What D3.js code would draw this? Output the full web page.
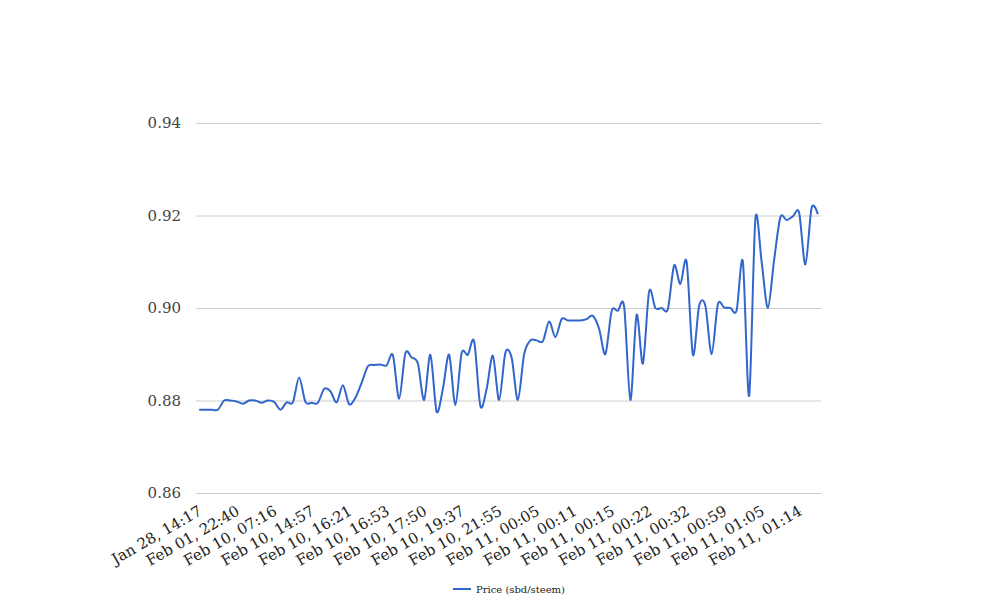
<!DOCTYPE html>
<html>
<head>
<meta charset="utf-8">
<script src="https://cdn.jsdelivr.net/npm/d3@7"></script>
<style>
  html, body { margin: 0; padding: 0; background: #fff; }
  svg { display: block; }
</style>
</head>
<body>
<svg id="chart" width="1008" height="616"></svg>
<script>
// ---- data ----
const seriesName = "Price (sbd/steem)";
const prices = [
  0.8780, 0.8780, 0.8780, 0.8780, 0.8800, 0.8800, 0.8798, 0.8793, 0.8800, 0.8800,
  0.8795, 0.8800, 0.8797, 0.8780, 0.8796, 0.8796, 0.8850, 0.8797, 0.8795, 0.8795,
  0.8825, 0.8820, 0.8796, 0.8833, 0.8792, 0.8806, 0.8838, 0.8874, 0.8877, 0.8878,
  0.8876, 0.8898, 0.8804, 0.8902, 0.8893, 0.8880, 0.8801, 0.8899, 0.8776, 0.8825,
  0.8899, 0.8790, 0.8902, 0.8899, 0.8928, 0.8788, 0.8825, 0.8897, 0.8801, 0.8903,
  0.8893, 0.8801, 0.8900, 0.8930, 0.8930, 0.8928, 0.8971, 0.8937, 0.8976, 0.8973,
  0.8973, 0.8973, 0.8976, 0.8983, 0.8955, 0.8900, 0.8993, 0.8994, 0.9003, 0.8801,
  0.8985, 0.8880, 0.9036, 0.9000, 0.9000, 0.8998, 0.9092, 0.9052, 0.9100, 0.8899,
  0.9005, 0.9005, 0.8900, 0.9008, 0.9001, 0.9000, 0.8995, 0.9100, 0.8810, 0.9192,
  0.9100, 0.9000, 0.9104, 0.9196, 0.9190, 0.9198, 0.9206, 0.9094, 0.9217, 0.9203
];
const categories = d3.range(prices.length);
const tickIndices = [0, 6, 12, 18, 24, 30, 36, 42, 48, 54, 60, 66, 72, 78, 84, 90, 96];
const tickLabels = [
  "Jan 28, 14:17", "Feb 01, 22:40", "Feb 10, 07:16", "Feb 10, 14:57",
  "Feb 10, 16:21", "Feb 10, 16:53", "Feb 10, 17:50", "Feb 10, 19:37",
  "Feb 10, 21:55", "Feb 11, 00:05", "Feb 11, 00:11", "Feb 11, 00:15",
  "Feb 11, 00:22", "Feb 11, 00:32", "Feb 11, 00:59", "Feb 11, 01:05",
  "Feb 11, 01:14"
];
const yTicks = [0.86, 0.88, 0.90, 0.92, 0.94];

// ---- layout ----
const plotLeft = 196, plotRight = 821, plotTop = 123, plotBottom = 493;
const font = "'DejaVu Serif', serif";
const svg = d3.select("#chart");

const x = d3.scaleBand().domain(categories).range([plotLeft, plotRight]).padding(0);
const cx = i => x(i) + x.bandwidth() / 2;
const y = d3.scaleLinear().domain([0.86, 0.94]).range([plotBottom, plotTop]);

// gridlines + y labels
const yAxis = d3.axisLeft(y).tickValues(yTicks).tickFormat(d3.format(".2f"))
  .tickSize(-(plotRight - plotLeft)).tickPadding(15);
const gy = svg.append("g").attr("transform", `translate(${plotLeft},0)`).call(yAxis);
gy.select(".domain").remove();
gy.selectAll(".tick line").attr("stroke", "#cccccc").attr("stroke-width", 1);
gy.selectAll(".tick text").attr("fill", "#444444")
  .style("font-family", font).style("font-size", "15px");

// x labels
const xAxis = d3.axisBottom(x).tickValues(tickIndices)
  .tickFormat((d, i) => tickLabels[i]).tickSize(0).tickPadding(0);
const gx = svg.append("g").attr("transform", `translate(0,${plotBottom})`).call(xAxis);
gx.select(".domain").remove();
gx.selectAll(".tick text")
  .attr("fill", "#222222")
  .style("font-family", font).style("font-size", "15px")
  .attr("text-anchor", "end")
  .attr("dy", null)
  .attr("y", 0)
  .attr("transform", "translate(4,21) rotate(-30)");

// line
const line = d3.line().x((d, i) => cx(i)).y(d => y(d)).curve(d3.curveCardinal.tension(0.1));
svg.append("path").datum(prices)
  .attr("d", line)
  .attr("fill", "none")
  .attr("stroke", "#3366cc")
  .attr("stroke-width", 2);

// legend
const lg = svg.append("g").attr("transform", "translate(453,589)");
lg.append("line").attr("x1", 0).attr("x2", 18).attr("y1", 0).attr("y2", 0)
  .attr("stroke", "#3366cc").attr("stroke-width", 2);
lg.append("text").attr("x", 23).attr("y", 4)
  .attr("fill", "#222222")
  .style("font-family", font).style("font-size", "10px")
  .text(seriesName);
</script>
</body>
</html>
